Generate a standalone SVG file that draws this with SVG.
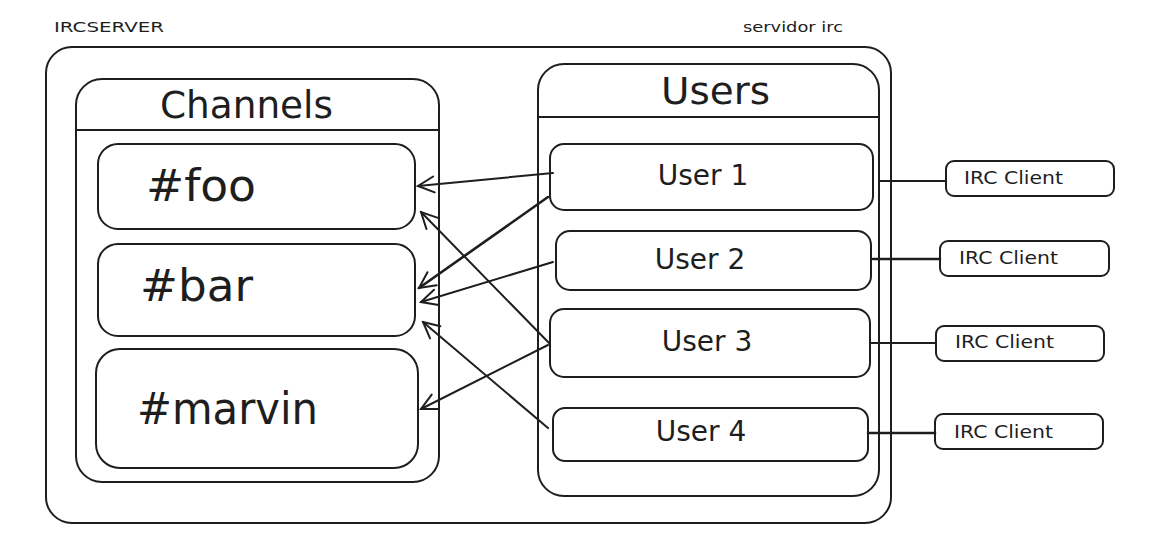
<svg xmlns="http://www.w3.org/2000/svg" width="1155" height="549" viewBox="0 0 1155 549">
  <style>
    .box { fill: #ffffff; stroke: #1e1e1e; stroke-width: 2; }
    .line { fill: none; stroke: #1e1e1e; stroke-width: 2; stroke-linecap: round; }
    .arrow { fill: none; stroke: #1e1e1e; stroke-width: 2; stroke-linecap: round; marker-end: url(#head); }
    text { font-family: "DejaVu Sans", "Liberation Sans", sans-serif; fill: #1e1e1e; }
    .title { font-size: 37px; }
    .chan { font-size: 44px; }
    .user { font-size: 28px; text-anchor: middle; }
    .client { font-size: 17px; }
    .small { font-size: 14px; }
  </style>
  <defs>
    <marker id="head" viewBox="0 0 20 20" refX="18" refY="10" markerWidth="20" markerHeight="20" markerUnits="userSpaceOnUse" orient="auto">
      <path d="M2,2 L18,10 L2,18" fill="none" stroke="#1e1e1e" stroke-width="2" stroke-linecap="round"/>
    </marker>
  </defs>

  <rect width="1155" height="549" fill="#ffffff"/>

  <text class="small" x="54" y="32" textLength="110" lengthAdjust="spacingAndGlyphs">IRCSERVER</text>
  <text class="small" x="743" y="32" textLength="100" lengthAdjust="spacingAndGlyphs">servidor irc</text>

  <g id="server">
    <rect class="box" x="46" y="47" width="845" height="476" rx="26"/>
  </g>

  <g id="channels">
    <rect class="box" x="76" y="79" width="363" height="403" rx="26"/>
    <line class="line" x1="76" y1="130" x2="439" y2="130"/>
    <text class="title" x="160" y="118" textLength="173" lengthAdjust="spacingAndGlyphs">Channels</text>
  </g>

  <g id="chan-foo">
    <rect class="box" x="98" y="144" width="317" height="85" rx="20"/>
    <text class="chan" x="146" y="201" textLength="110" lengthAdjust="spacingAndGlyphs">#foo</text>
  </g>
  <g id="chan-bar">
    <rect class="box" x="98" y="244" width="317" height="92" rx="20"/>
    <text class="chan" x="140" y="301" textLength="113" lengthAdjust="spacingAndGlyphs">#bar</text>
  </g>
  <g id="chan-marvin">
    <rect class="box" x="96" y="349" width="322" height="119" rx="24"/>
    <text class="chan" x="137" y="424" textLength="181" lengthAdjust="spacingAndGlyphs">#marvin</text>
  </g>

  <g id="users">
    <rect class="box" x="538" y="64" width="341" height="432" rx="26"/>
    <line class="line" x1="538" y1="117" x2="879" y2="117"/>
    <text class="title" x="661" y="104" textLength="109" lengthAdjust="spacingAndGlyphs">Users</text>
  </g>

  <g id="user-1">
    <rect class="box" x="550" y="144" width="323" height="66" rx="14"/>
    <text class="user" x="703" y="185">User 1</text>
  </g>
  <g id="user-2">
    <rect class="box" x="556" y="231" width="315" height="59" rx="14"/>
    <text class="user" x="700" y="269">User 2</text>
  </g>
  <g id="user-3">
    <rect class="box" x="550" y="309" width="320" height="68" rx="14"/>
    <text class="user" x="707" y="351">User 3</text>
  </g>
  <g id="user-4">
    <rect class="box" x="553" y="408" width="315" height="53" rx="12"/>
    <text class="user" x="701" y="441">User 4</text>
  </g>

  <g id="client-1">
    <rect class="box" x="946" y="161" width="168" height="35" rx="8"/>
    <text class="client" x="964" y="184" textLength="99" lengthAdjust="spacingAndGlyphs">IRC Client</text>
  </g>
  <g id="client-2">
    <rect class="box" x="940" y="241" width="169" height="35" rx="8"/>
    <text class="client" x="959" y="264" textLength="99" lengthAdjust="spacingAndGlyphs">IRC Client</text>
  </g>
  <g id="client-3">
    <rect class="box" x="936" y="326" width="168" height="35" rx="8"/>
    <text class="client" x="955" y="348" textLength="99" lengthAdjust="spacingAndGlyphs">IRC Client</text>
  </g>
  <g id="client-4">
    <rect class="box" x="935" y="414" width="168" height="35" rx="8"/>
    <text class="client" x="954" y="438" textLength="99" lengthAdjust="spacingAndGlyphs">IRC Client</text>
  </g>

  <g id="connectors">
    <!-- user to channel membership -->
    <line class="arrow" x1="553" y1="173" x2="418" y2="186"/>
    <line class="arrow" x1="548" y1="197" x2="419" y2="288" style="stroke-width:2.6"/>
    <line class="arrow" x1="553" y1="262" x2="421" y2="302"/>
    <line class="arrow" x1="550" y1="344" x2="421" y2="212"/>
    <line class="arrow" x1="548" y1="345" x2="421" y2="409"/>
    <line class="arrow" x1="548" y1="428" x2="423" y2="322"/>
    <!-- user to client links -->
    <line class="line" x1="880" y1="181" x2="946" y2="181"/>
    <line class="line" x1="873" y1="259" x2="940" y2="259" style="stroke-width:2.6"/>
    <line class="line" x1="870" y1="343" x2="936" y2="343"/>
    <line class="line" x1="868" y1="433" x2="935" y2="433" style="stroke-width:2.6"/>
  </g>
</svg>
